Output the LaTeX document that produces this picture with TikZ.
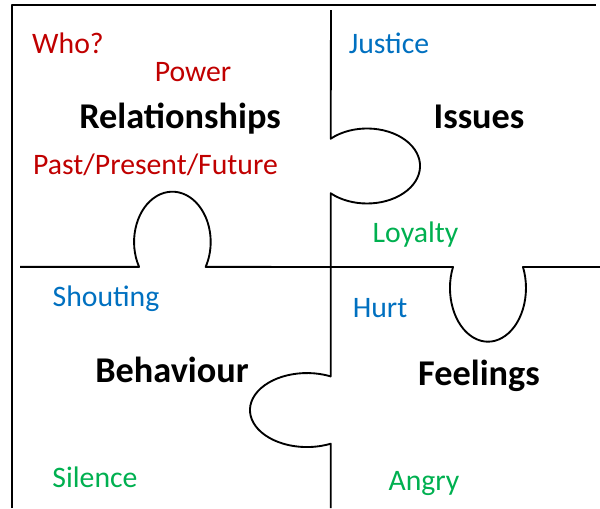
\documentclass[tikz,border=0pt]{standalone}
\usepackage{fontspec}
\setmainfont{Carlito}
\definecolor{wordred}{HTML}{C00000}
\definecolor{wordblue}{HTML}{0070C0}
\definecolor{wordgreen}{HTML}{00B050}
\begin{document}
\begin{tikzpicture}[x=0.75pt,y=-0.75pt,
  cut/.style={line width=1.4pt, black, line join=round},
  title/.style={font=\fontsize{27.2}{32}\selectfont\bfseries, anchor=base, inner sep=0pt},
  word/.style={font=\fontsize{22.3}{26}\selectfont, anchor=base, inner sep=0pt},
  red word/.style={word, text=wordred},
  blue word/.style={word, text=wordblue},
  green word/.style={word, text=wordgreen}]
\useasboundingbox (0,0) rectangle (600,508);

% outer edges of the sheet
\draw[cut] (12,508) -- (12,5) -- (596,5);

% vertical cut with its two tabs
\draw[cut] (331,10) -- (330.7,138.7)
  arc[start angle=-133.3, end angle=133.3, x radius=53, y radius=37.5]
  -- (330.7,376.4)
  arc[start angle=-65.4, end angle=-294.6, x radius=57, y radius=37]
  -- (330.7,508);

% horizontal cut with its two tabs
\draw[cut] (20,266.9) -- (139.1,266.9)
  arc[start angle=150.3, end angle=389.7, x radius=38.3, y radius=50.3]
  -- (453,267)
  arc[start angle=203, end angle=-23, x radius=38, y radius=53.7]
  -- (600,267);

% piece titles
\node[title] (rel) at (180,128) {Relationships};
\node[title] (iss) at (479,128) {Issues};
\node[title] (beh) at (172,382) {Behaviour};
\node[title] (fee) at (479,385.5) {Feelings};

% words on each piece
\node[red word] (who) at (68,53) {Who?};
\node[red word] (pow) at (193,81) {Power};
\node[red word] (ppf) at (155.5,174) {Past/Present/Future};
\node[blue word] (jus) at (389,53) {Justice};
\node[green word] (loy) at (415.5,242) {Loyalty};
\node[blue word] (sho) at (106,306.5) {Shouting};
\node[blue word] (hur) at (380,317.5) {Hurt};
\node[green word] (sil) at (95,487.5) {Silence};
\node[green word] (ang) at (424,490) {Angry};
\end{tikzpicture}
\end{document}
